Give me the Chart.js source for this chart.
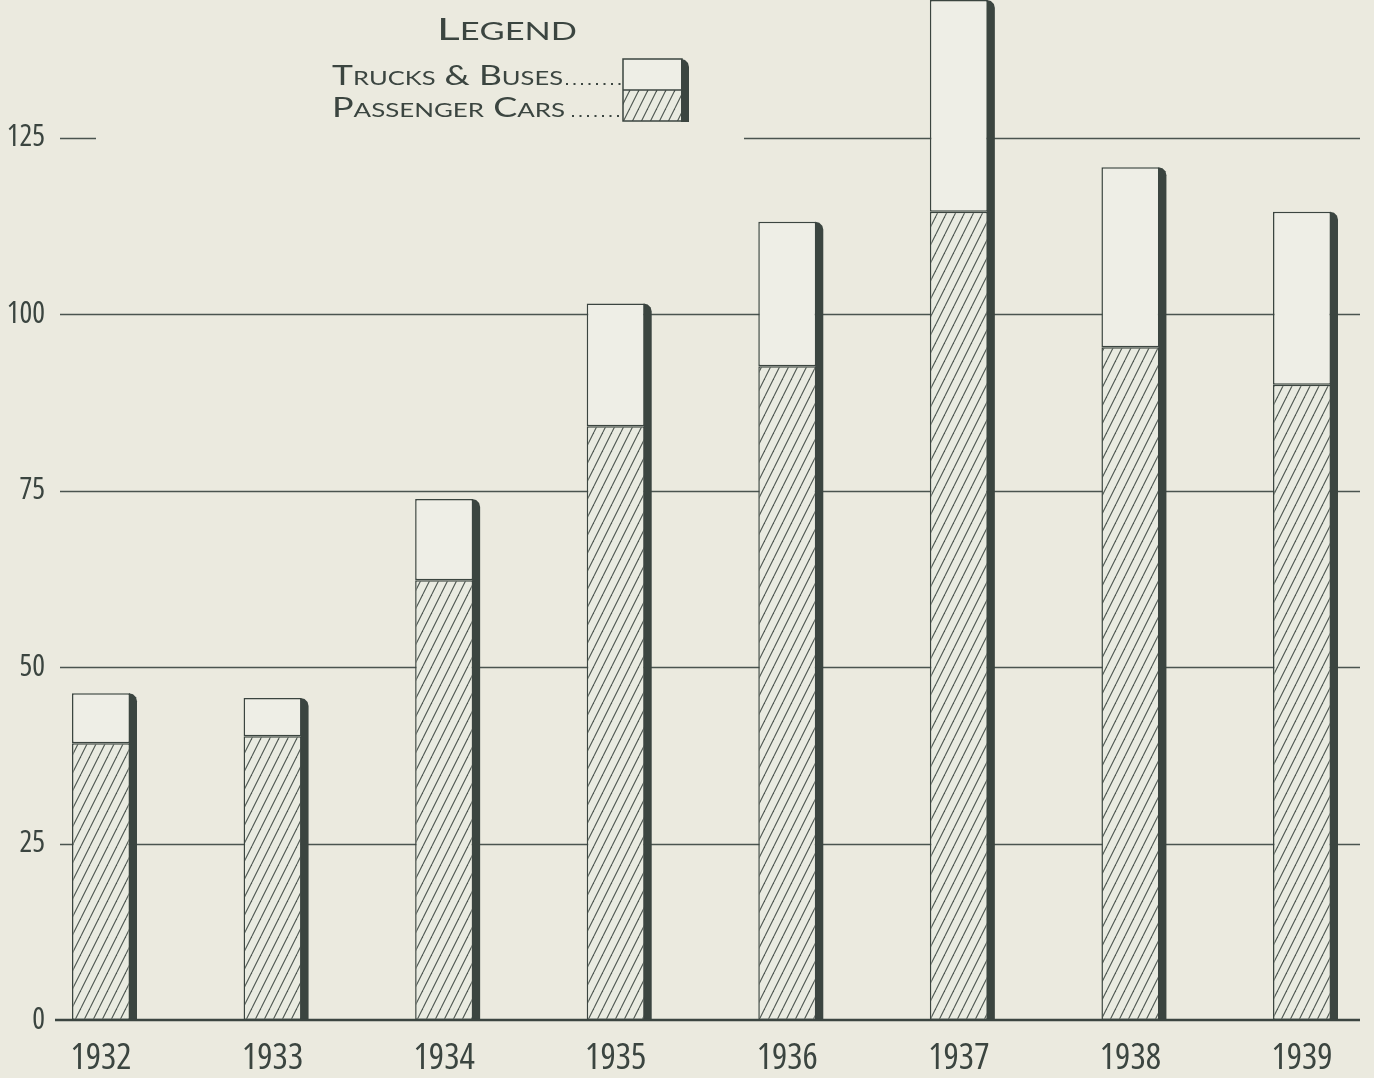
<!DOCTYPE html>
<html>
<head>
<meta charset="utf-8">
<script src="https://cdn.jsdelivr.net/npm/chart.js@4.4.1/dist/chart.umd.min.js"></script>
<style>
  html, body { margin: 0; padding: 0; background: #ebeadf; }
  canvas { display: block; }
</style>
</head>
<body>
<canvas id="chart" width="1374" height="1078"></canvas>
<script>
// Values
const years = ['1932', '1933', '1934', '1935', '1936', '1937', '1938', '1939'];
const passengerCars = [39.2, 40.2, 62.3, 84.1, 92.6, 114.5, 95.3, 90.0];
const trucksBuses = [7.1, 5.4, 11.5, 17.4, 20.5, 30.0, 25.5, 24.5];
const yTicks = [0, 25, 50, 75, 100, 125];

const ink = '#3b4540';
const paper = '#ebeadf';
const numFont = "'Open Sans', 'Roboto Condensed', sans-serif";
const capFont = "'Lato', 'Open Sans', sans-serif";

// hatch pattern for passenger cars
function makeHatch() {
    const c = document.createElement('canvas');
    c.width = 9;
    c.height = 18;
    const g = c.getContext('2d');
    g.fillStyle = '#e9ebe1';
    g.fillRect(0, 0, 9, 18);
    g.strokeStyle = '#4d5651';
    g.lineWidth = 1.1;
    [-9, 0, 9].forEach(dx => {
        g.beginPath();
        g.moveTo(dx, 18);
        g.lineTo(dx + 9, 0);
        g.stroke();
    });
    return g.createPattern(c, 'repeat');
}
const hatch = makeHatch();

// small caps text, scaled to a given width
function drawCaps(ctx, text, x, y, size, ratio, width, align) {
    const parts = [];
    for (const ch of text) {
        const small = ch !== ch.toUpperCase();
        parts.push({ ch: ch.toUpperCase(), size: small ? size * ratio : size });
    }
    let total = 0;
    parts.forEach(p => {
        ctx.font = p.size + 'px ' + capFont;
        p.w = ctx.measureText(p.ch).width;
        total += p.w;
    });
    const sx = width ? width / total : 1;
    const drawn = total * sx;
    const left = align === 'center' ? x - drawn / 2 : x;
    ctx.save();
    ctx.translate(left, y);
    ctx.scale(sx, 1);
    ctx.textBaseline = 'alphabetic';
    ctx.textAlign = 'left';
    let px = 0;
    parts.forEach(p => {
        ctx.font = p.size + 'px ' + capFont;
        ctx.fillText(p.ch, px, 0);
        px += p.w;
    });
    ctx.restore();
    return left + drawn;
}

function drawDots(ctx, from, to, y) {
    ctx.save();
    ctx.fillStyle = ink;
    for (let x = from + 3; x < to; x += 7.5) {
        ctx.fillRect(x, y - 2, 2, 2);
    }
    ctx.restore();
}

function shadow(ctx, right, top, bottom) {
    ctx.beginPath();
    ctx.moveTo(right - 1, top);
    ctx.lineTo(right + 3, top + 1);
    ctx.lineTo(right + 6, top + 4);
    ctx.lineTo(right + 7, top + 8);
    ctx.lineTo(right + 7, bottom);
    ctx.lineTo(right - 1, bottom);
    ctx.closePath();
    ctx.fill();
}

const paperPlugin = {
    id: 'paperPlugin',
    beforeDraw(chart) {
        const ctx = chart.ctx;
        ctx.save();
        ctx.fillStyle = paper;
        ctx.fillRect(0, 0, chart.width, chart.height);
        ctx.restore();
    },
    beforeDatasetsDraw(chart) {
        // ruled lines run past the plot on both sides
        const ctx = chart.ctx;
        const y = chart.scales.y;
        ctx.save();
        ctx.strokeStyle = '#4a544f';
        ctx.lineWidth = 1.3;
        y.ticks.forEach(t => {
            if (t.value === 0) return;
            const py = Math.round(y.getPixelForValue(t.value)) + 0.5;
            ctx.beginPath();
            ctx.moveTo(60, py);
            ctx.lineTo(1360, py);
            ctx.stroke();
        });
        ctx.restore();
    },
    afterDatasetsDraw(chart) {
        const ctx = chart.ctx;
        const y = chart.scales.y;
        const base = y.getPixelForValue(0);
        const top = chart.getDatasetMeta(1);
        ctx.save();
        ctx.fillStyle = ink;
        top.data.forEach(bar => {
            const p = bar.getProps(['x', 'y', 'width'], true);
            shadow(ctx, p.x + p.width / 2, p.y, base);
        });
        // base line
        ctx.strokeStyle = ink;
        ctx.lineWidth = 2.5;
        ctx.beginPath();
        ctx.moveTo(55, base);
        ctx.lineTo(1360, base);
        ctx.stroke();
        ctx.restore();
    },
    afterDraw(chart) {
        const ctx = chart.ctx;
        ctx.save();
        // legend sits on a blank patch of paper
        ctx.fillStyle = paper;
        ctx.fillRect(96, 0, 648, 150);
        ctx.fillStyle = ink;
        drawCaps(ctx, 'Legend', 507, 40, 31, 0.78, 140, 'center');
        const labels = chart.data.datasets.map(d => d.label);
        const e1 = drawCaps(ctx, labels[1], 332, 85, 26, 0.72, 231, 'left');
        drawDots(ctx, e1, 620, 85);
        const e2 = drawCaps(ctx, labels[0], 332, 117, 26, 0.72, 233, 'left');
        drawDots(ctx, e2 + 4, 620, 117);
        // key box
        const bx = 623, bw = 59, by = 59, bm = 90, bb = 121;
        ctx.fillStyle = '#eeeee6';
        ctx.fillRect(bx, by, bw, bm - by);
        ctx.fillStyle = hatch;
        ctx.fillRect(bx, bm, bw, bb - bm);
        ctx.strokeStyle = ink;
        ctx.lineWidth = 1.5;
        ctx.strokeRect(bx, by, bw, bb - by);
        ctx.beginPath();
        ctx.moveTo(bx, bm);
        ctx.lineTo(bx + bw, bm);
        ctx.stroke();
        ctx.fillStyle = ink;
        shadow(ctx, bx + bw, by, bb + 1);
        ctx.restore();
    }
};

const ctx = document.getElementById('chart').getContext('2d');
new Chart(ctx, {
    type: 'bar',
    data: {
        labels: years,
        datasets: [
            {
                label: 'Passenger Cars',
                data: passengerCars,
                backgroundColor: hatch,
                borderColor: ink,
                borderWidth: 1.5,
                borderSkipped: false,
                clip: false
            },
            {
                label: 'Trucks & Buses',
                data: trucksBuses,
                backgroundColor: '#eeeee6',
                borderColor: ink,
                borderWidth: 1.5,
                borderSkipped: false,
                clip: false
            }
        ]
    },
    options: {
        responsive: false,
        devicePixelRatio: 1,
        animation: false,
        barPercentage: 0.338,
        categoryPercentage: 1,
        layout: { padding: { left: 0, right: 72, top: 0, bottom: 0 } },
        plugins: {
            legend: { display: false },
            tooltip: { enabled: false }
        },
        scales: {
            x: {
                stacked: true,
                offset: false,
                grid: { display: false, drawTicks: false },
                border: { display: false },
                ticks: {
                    color: ink,
                    padding: 17,
                    maxRotation: 0,
                    font: { family: numFont, weight: 'condensed', size: 36 }
                },
                afterFit(scale) { scale.height = 58; }
            },
            y: {
                stacked: true,
                min: 0,
                max: 144.5,
                grid: { display: false, drawTicks: false },
                border: { display: false },
                afterBuildTicks(scale) {
                    scale.ticks = yTicks.map(v => ({ value: v }));
                },
                ticks: {
                    color: ink,
                    padding: 56,
                    font: { family: numFont, weight: 'condensed', size: 30 }
                },
                afterFit(scale) {
                    scale.width = 101;
                    scale.paddingTop = 0;
                    scale.paddingBottom = 0;
                }
            }
        }
    },
    plugins: [paperPlugin]
});
</script>
</body>
</html>
